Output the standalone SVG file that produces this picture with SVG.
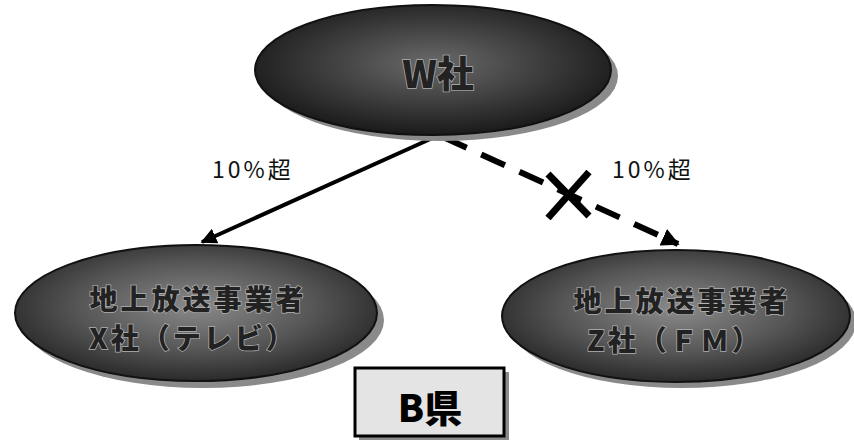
<svg xmlns="http://www.w3.org/2000/svg" width="854" height="440" viewBox="0 0 854 440">
<defs>
<radialGradient id="gTop" cx="50%" cy="45%" r="55%">
<stop offset="0" stop-color="#6a6a6a"/>
<stop offset="0.6" stop-color="#3a3a3a"/>
<stop offset="1" stop-color="#1a1a1a"/>
</radialGradient>
<radialGradient id="gLow" cx="50%" cy="45%" r="55%">
<stop offset="0" stop-color="#8a8a8a"/>
<stop offset="0.6" stop-color="#555"/>
<stop offset="1" stop-color="#2a2a2a"/>
</radialGradient>
<marker id="arr" viewBox="0 0 10 10" refX="9" refY="5" markerWidth="4" markerHeight="4" orient="auto" markerUnits="strokeWidth">
<path d="M0,0 L10,5 L0,10 z" fill="#000"/>
</marker>
<marker id="arr2" viewBox="0 0 10 10" refX="9" refY="5" markerWidth="3" markerHeight="3" orient="auto" markerUnits="strokeWidth">
<path d="M0,0 L10,5 L0,10 z" fill="#000"/>
</marker>
</defs>
<style>
.sh{fill:#8a8a8a}
.el{stroke:#111;stroke-width:2}
.nt{font-family:"Noto Sans CJK JP","Liberation Sans",sans-serif;font-weight:900;fill:#222;stroke:#b0b0b0;stroke-width:1.5;paint-order:stroke;text-anchor:middle}
.t2{font-size:28px;letter-spacing:3px}
.lb{font-family:"Noto Sans CJK JP","Liberation Sans",sans-serif;font-size:23px;letter-spacing:3px;fill:#111}
</style>
<rect width="854" height="440" fill="#fff"/>
<g id="connectors">
<line x1="437" y1="136" x2="202" y2="242" stroke="#000" stroke-width="4" marker-end="url(#arr)"/>
<line x1="443" y1="137" x2="678" y2="244" stroke="#000" stroke-width="6" stroke-dasharray="26,16" marker-end="url(#arr2)"/>
<g id="cross" stroke="#000" stroke-width="7">
<line x1="548" y1="174" x2="589" y2="216"/>
<line x1="589" y1="172" x2="548" y2="218"/>
</g>
<text class="lb" x="212" y="178">10%超</text>
<text class="lb" x="612" y="178">10%超</text>
</g>
<g id="nodeW">
<ellipse class="sh" cx="440" cy="76" rx="178" ry="65"/>
<ellipse class="el" cx="433" cy="70" rx="178" ry="65" fill="url(#gTop)"/>
<text class="nt" x="438" y="88" font-size="37">W社</text>
</g>
<g id="nodeX">
<ellipse class="sh" cx="203" cy="320" rx="181" ry="68"/>
<ellipse class="el" cx="196" cy="313" rx="181" ry="68" fill="url(#gLow)"/>
<text class="nt t2" x="198" y="310">地上放送事業者</text>
<text class="nt t2" x="193" y="349">X社（テレビ）</text>
</g>
<g id="nodeZ">
<ellipse class="sh" cx="682" cy="322" rx="174" ry="66"/>
<ellipse class="el" cx="676" cy="316" rx="174" ry="66" fill="url(#gLow)"/>
<text class="nt t2" x="682" y="312">地上放送事業者</text>
<text class="nt t2" x="675" y="351">Z社（ＦＭ）</text>
</g>
<g id="nodeB">
<rect x="359" y="372" width="150" height="68" fill="#8a8a8a"/>
<rect x="355" y="368" width="149" height="68" fill="#e4e4e4" stroke="#000" stroke-width="3"/>
<text x="430" y="422" font-family="Noto Sans CJK JP,Liberation Sans,sans-serif" font-weight="900" font-size="38" fill="#000" text-anchor="middle">B県</text>
</g>
</svg>
